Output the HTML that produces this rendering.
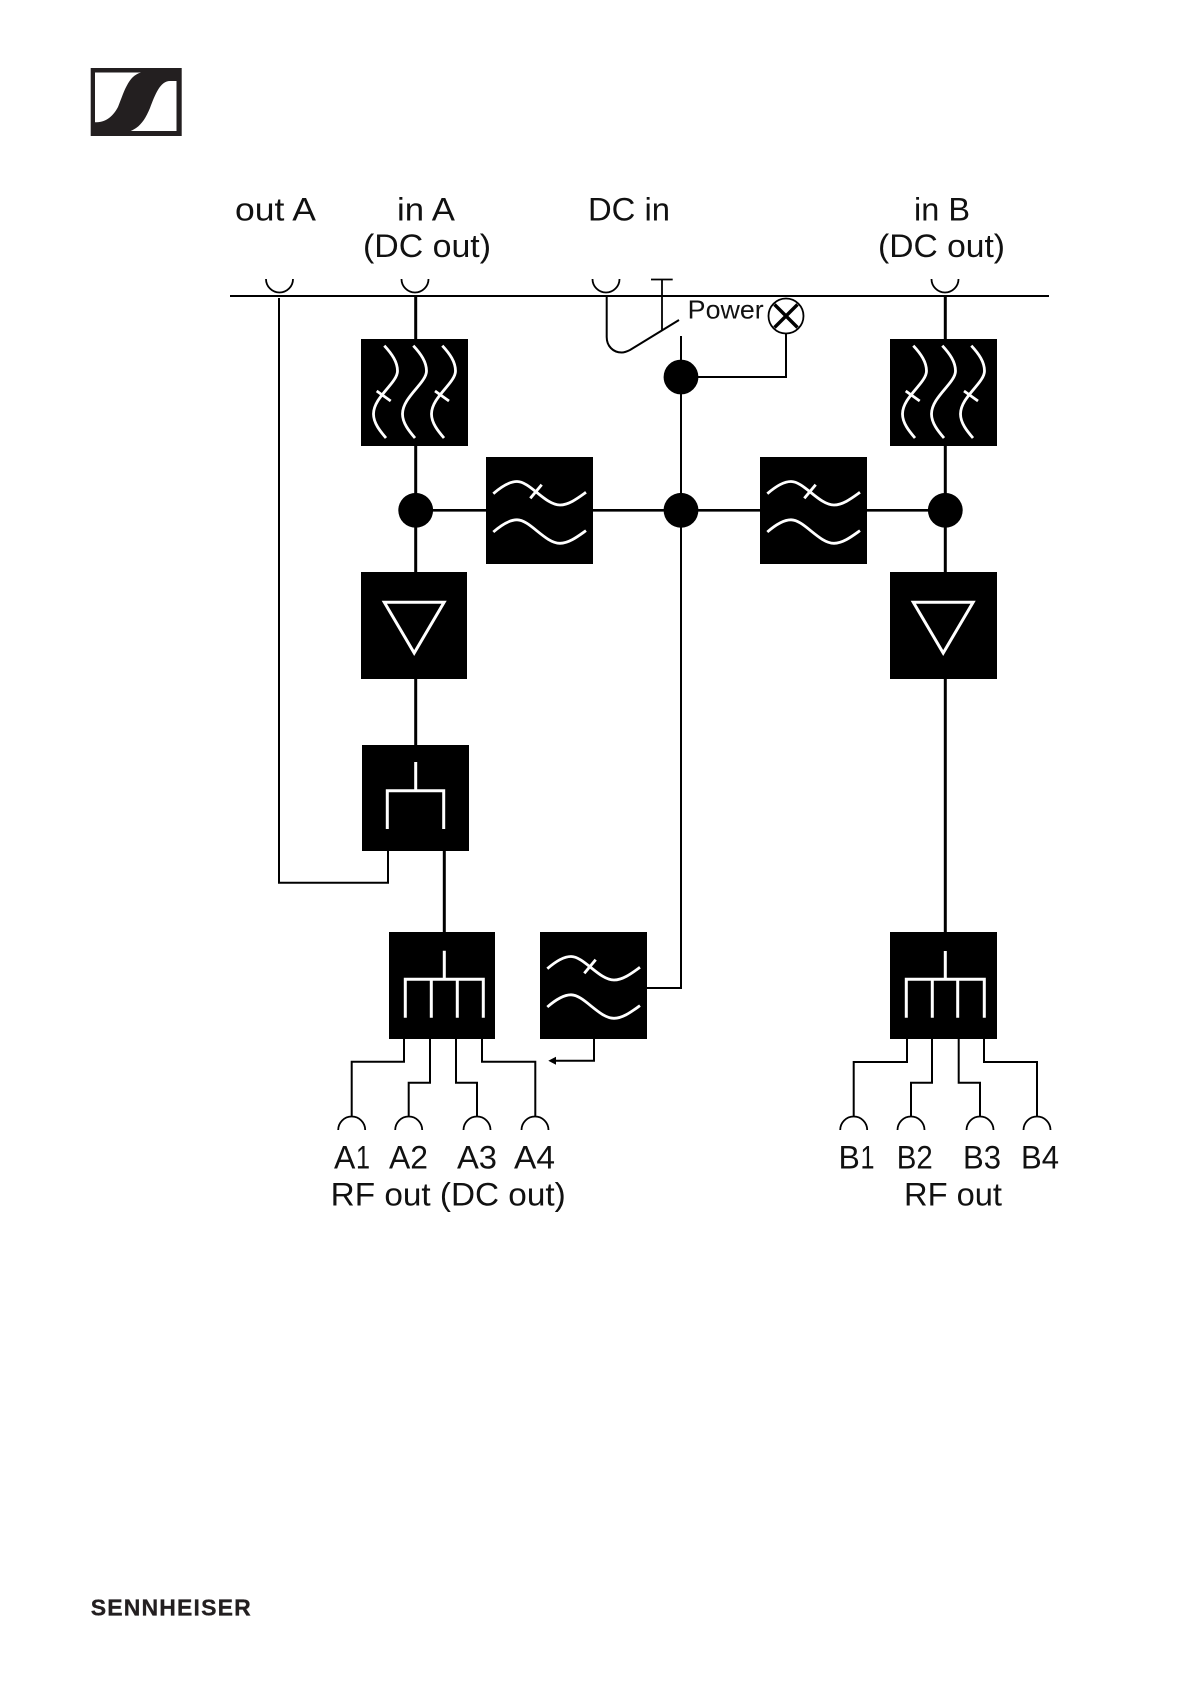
<!DOCTYPE html>
<html lang="en">
<head>
<meta charset="utf-8">
<title>Block diagram</title>
<style>
html,body{margin:0;padding:0;background:#fff;}
svg{display:block;}
text{font-family:"Liberation Sans",sans-serif;fill:#111;}
</style>
</head>
<body>
<svg width="1191" height="1684" viewBox="0 0 1191 1684" xmlns="http://www.w3.org/2000/svg">
<defs>
<g id="hp">
  <rect x="361" y="339" width="107" height="107" fill="#000"/>
  <g fill="none" stroke="#fff" stroke-width="2.800">
    <path d="M384.300 345.700C392 354 397.500 362 397.500 371C397.500 383 373.500 397 373.500 414C373.500 423 380 431 386 438"/>
    <path d="M413.300 345.700C421 354 426.500 362 426.500 371C426.500 383 402.500 397 402.500 414C402.500 423 409 431 415 438"/>
    <path d="M442.300 345.700C450 354 455.500 362 455.500 371C455.500 383 431.500 397 431.500 414C431.500 423 438 431 444 438"/>
    <path d="M376.700 391L390.700 401M435 391L449 401"/>
  </g>
</g>
<g id="lp">
  <rect x="486" y="457" width="107" height="107" fill="#000"/>
  <g fill="none" stroke="#fff" stroke-width="2.800">
    <path d="M493.300 493.700C501 487 509 481.500 517 481.500C530 481.500 545 505 560 505C569 505 578 498 586 492.300"/>
    <path d="M493.300 532C501 525.300 509 519.800 517 519.800C530 519.800 545 543.300 560 543.300C569 543.300 578 536.300 586 530.600"/>
    <path d="M541.700 484.700L530.300 498.300"/>
  </g>
</g>
<g id="amp">
  <path d="M384.300 602.200H444.100L414.200 653Z" fill="none" stroke="#fff" stroke-width="3"/>
</g>
<path id="cup" d="M-13.500 0A13.500 13.500 0 0 0 13.500 0" fill="none" stroke="#000" stroke-width="1.800"/>
<path id="cap" d="M-13.500 13A13.500 13.500 0 0 1 13.500 13" fill="none" stroke="#000" stroke-width="1.800"/>
</defs>

<!-- logo -->
<rect x="90.700" y="68" width="91" height="68" fill="#231f20"/>
<path d="M95 72.500H141C128 76 124 92 118 107C112 118 105 122.300 95 122.300Z" fill="#fff"/>
<path d="M176.500 81V131H130.700C140 127 145 120 150 108C155 95 160 81 170 81Z" fill="#fff"/>

<!-- top rail and sockets -->
<path d="M230 296H1049" stroke="#000" stroke-width="2" fill="none"/>
<use href="#cup" x="279.500" y="279"/>
<use href="#cup" x="415" y="279"/>
<use href="#cup" x="606" y="279"/>
<use href="#cup" x="945" y="279"/>
<path d="M651 279.500H672.700M662 279.500V330" stroke="#000" stroke-width="1.800" fill="none"/>

<!-- thin wires -->
<g fill="none" stroke="#000" stroke-width="2">
  <path d="M279 298V882.700H388V850"/>
  <path d="M606.700 296V337C606.700 346 613 352.500 621.700 352.500C625 352.500 628 351 630 350L679 320"/>
  <path d="M681 336V988H647"/>
  <path d="M681 377H786V334"/>
  <path d="M404 1039V1061.700H351.700V1117"/>
  <path d="M430 1039V1082.700H408.700V1117"/>
  <path d="M456 1039V1082.700H477V1117"/>
  <path d="M482 1039V1061.700H535.300V1117"/>
  <path d="M594 1039V1060.700H555"/>
  <path d="M907 1039V1062H853.700V1117"/>
  <path d="M932 1039V1082.700H911V1117"/>
  <path d="M958.700 1039V1082.700H980V1117"/>
  <path d="M984 1039V1062H1037V1117"/>
</g>
<path d="M548.300 1060.700L556 1056.700V1064.700Z" fill="#000"/>

<!-- thick wires -->
<g fill="none" stroke="#000" stroke-width="3">
  <path d="M415.700 296V745"/>
  <path d="M444.300 850V932"/>
  <path d="M945.300 296V932"/>
  <path d="M415.700 510.300H945.300" stroke-width="2.600"/>
</g>

<!-- nodes -->
<circle cx="415.700" cy="510.300" r="17.400" fill="#000"/>
<circle cx="681" cy="510.300" r="17.400" fill="#000"/>
<circle cx="945.300" cy="510.300" r="17.400" fill="#000"/>
<circle cx="681" cy="377" r="17.400" fill="#000"/>

<!-- lamp -->
<circle cx="786" cy="316" r="17.500" fill="#fff" stroke="#000" stroke-width="1.800"/>
<path d="M774.500 304.500L797.500 327.500M797.500 304.500L774.500 327.500" stroke="#000" stroke-width="3.400" fill="none"/>

<!-- blocks -->
<use href="#hp"/>
<use href="#hp" x="529"/>
<use href="#lp"/>
<use href="#lp" x="274"/>
<use href="#lp" x="54" y="475"/>
<rect x="361" y="572" width="106" height="107" fill="#000"/>
<rect x="890" y="572" width="107" height="107" fill="#000"/>
<use href="#amp"/>
<use href="#amp" x="529"/>

<!-- splitter -->
<rect x="362" y="745" width="107" height="106" fill="#000"/>
<path d="M415.700 762V790.700M387.300 829V790.700H443.700V829" fill="none" stroke="#fff" stroke-width="3"/>

<!-- 4-way left -->
<rect x="389" y="932" width="106" height="107" fill="#000"/>
<path d="M444.300 950.700V979.300M405.300 1017.700V979.300H483.300V1017.700M431.300 979.300V1017.700M457.300 979.300V1017.700" fill="none" stroke="#fff" stroke-width="3"/>

<!-- 4-way right -->
<rect x="890" y="932" width="107" height="107" fill="#000"/>
<path d="M945.300 951V979.300M906.300 1017.700V979.300H984.300V1017.700M932.300 979.300V1017.700M957.700 979.300V1017.700" fill="none" stroke="#fff" stroke-width="3"/>

<!-- bottom sockets -->
<use href="#cap" x="351.700" y="1117"/>
<use href="#cap" x="408.700" y="1117"/>
<use href="#cap" x="477" y="1117"/>
<use href="#cap" x="535" y="1117"/>
<use href="#cap" x="853.700" y="1117"/>
<use href="#cap" x="911" y="1117"/>
<use href="#cap" x="980" y="1117"/>
<use href="#cap" x="1037" y="1117"/>

<!-- labels -->
<g font-size="32">
  <text x="235" y="220.500" textLength="81" lengthAdjust="spacingAndGlyphs">out A</text>
  <text x="397" y="220.500" textLength="58" lengthAdjust="spacingAndGlyphs">in A</text>
  <text x="363" y="257" textLength="128" lengthAdjust="spacingAndGlyphs">(DC out)</text>
  <text x="588" y="220.500" textLength="82" lengthAdjust="spacingAndGlyphs">DC in</text>
  <text x="914" y="220.500" textLength="56" lengthAdjust="spacingAndGlyphs">in B</text>
  <text x="878" y="257" textLength="127" lengthAdjust="spacingAndGlyphs">(DC out)</text>
  <text x="334" y="1168.500">A</text><text x="356" y="1168.500" textLength="14" lengthAdjust="spacingAndGlyphs">1</text>
  <text x="389" y="1168.500" textLength="39" lengthAdjust="spacingAndGlyphs">A2</text>
  <text x="457" y="1168.500" textLength="40" lengthAdjust="spacingAndGlyphs">A3</text>
  <text x="514" y="1168.500" textLength="41" lengthAdjust="spacingAndGlyphs">A4</text>
  <text x="330.700" y="1205.500" textLength="235" lengthAdjust="spacingAndGlyphs">RF out (DC out)</text>
  <text x="838.500" y="1168.500">B</text><text x="860.500" y="1168.500" textLength="14" lengthAdjust="spacingAndGlyphs">1</text>
  <text x="896.700" y="1168.500" textLength="36" lengthAdjust="spacingAndGlyphs">B2</text>
  <text x="963" y="1168.500" textLength="38" lengthAdjust="spacingAndGlyphs">B3</text>
  <text x="1021" y="1168.500" textLength="38" lengthAdjust="spacingAndGlyphs">B4</text>
  <text x="904" y="1205.500" textLength="98" lengthAdjust="spacingAndGlyphs">RF out</text>
</g>
<text x="687.700" y="318.500" font-size="26" textLength="76" lengthAdjust="spacingAndGlyphs">Power</text>
<text x="90.700" y="1615.700" font-size="23" font-weight="bold" textLength="160" lengthAdjust="spacing" style="fill:#231f20;stroke:#231f20;stroke-width:.3">SENNHEISER</text>
</svg>
</body>
</html>
